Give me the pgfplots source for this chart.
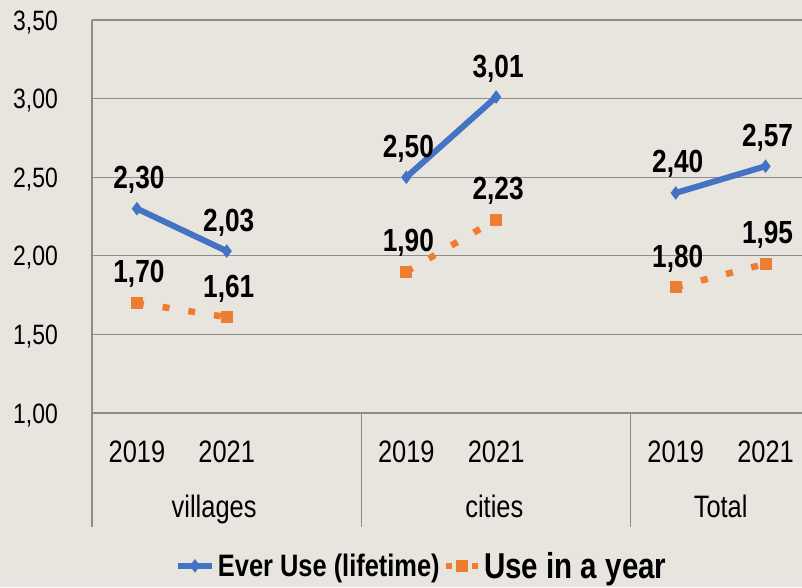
\documentclass[border=0pt]{standalone}
\usepackage{pgfplots}
\pgfplotsset{compat=1.18}
\usepackage{fontspec}
\setmainfont{Liberation Sans}[FakeStretch=0.82]
\definecolor{bg}{RGB}{232,228,222}
\definecolor{bl}{RGB}{68,114,196}
\definecolor{org}{RGB}{237,125,49}
\definecolor{gridc}{RGB}{140,140,140}
\pgfplotsset{
  bluelegend/.style={legend image code/.code={\draw[mark repeat=2,mark phase=2,##1] plot coordinates {(0pt,0pt)(17pt,0pt)(34pt,0pt)};}},
  orglegend/.style={legend image code/.code={\draw[mark repeat=2,mark phase=2,##1,dash pattern=on 6pt off 20pt] plot coordinates {(0pt,0pt)(16pt,0pt)(32pt,0pt)};}},
}
\begin{document}
\begin{tikzpicture}
\fill[bg] (0pt,0pt) rectangle (802pt,587pt);
\useasboundingbox (0pt,0pt) rectangle (802pt,587pt);
\begin{axis}[
  at={(92pt,174pt)}, anchor=south west,
  scale only axis, width=710pt, height=393pt,
  xmin=0, xmax=7.906, ymin=1, ymax=3.5,
  ytick={1,1.5,2,2.5,3,3.5},
  yticklabels={{1,00},{1,50},{2,00},{2,50},{3,00},{3,50}},
  xtick={0.5,1.5,3.5,4.5,6.5,7.5},
  xticklabels={2019,2021,2019,2021,2019,2021},
  major tick length=0pt,
  axis line style={draw=none},
  ymajorgrids, grid style={gridc, line width=1.2pt},
  yticklabel style={font=\fontsize{28}{30}\selectfont, anchor=base east, inner sep=0pt, xshift=-34pt, yshift=-10pt},
  xticklabel style={font=\fontsize{31}{33}\selectfont, anchor=base, inner sep=0pt, yshift=-49pt},
  unbounded coords=jump, clip=false,
  nodes near coords={\pgfmathprintnumber[fixed, fixed zerofill, precision=2, use comma, assume math mode=true]{\pgfplotspointmeta}},
  point meta=y,
  every node near coord/.append style={font=\fontsize{32}{34}\selectfont\bfseries, anchor=base, inner sep=0pt, yshift=20pt, xshift=2pt, text=black},
  legend style={at={(0.465,-0.389)}, anchor=center, draw=none, fill=none, legend columns=2,
    /tikz/every even column/.append style={column sep=0pt}, nodes={inner sep=3pt}},
]
\addplot[bl, line width=6pt, mark=diamond*, mark size=6pt, mark options={solid, line width=1pt}, bluelegend]
  coordinates {(0.5,2.30)(1.5,2.03)(2.5,nan)(3.5,2.50)(4.5,3.01)(5.5,nan)(6.5,2.40)(7.5,2.57)};
\addlegendentry{\fontsize{31}{33}\selectfont\bfseries Ever Use (lifetime)}
\addplot[org, line width=6.5pt, dash pattern=on 7pt off 19pt, mark=square*, mark size=5.5pt, mark options={solid, line width=1pt}, orglegend]
  coordinates {(0.5,1.70)(1.5,1.61)(2.5,nan)(3.5,1.90)(4.5,2.23)(5.5,nan)(6.5,1.80)(7.5,1.95)};
\addlegendentry{\fontsize{36}{38}\selectfont\bfseries Use in a year}
\draw[gridc, line width=1.2pt] (axis cs:0,3.5) -- ([yshift=-114pt]axis cs:0,1);
\draw[gridc, line width=1.2pt] (axis cs:3,1) -- ([yshift=-114pt]axis cs:3,1);
\draw[gridc, line width=1.2pt] (axis cs:6,1) -- ([yshift=-114pt]axis cs:6,1);
\node[font=\fontsize{31}{33}\selectfont, anchor=base, inner sep=0pt] at ([yshift=-104pt]axis cs:1.36,1) {villages};
\node[font=\fontsize{31}{33}\selectfont, anchor=base, inner sep=0pt] at ([yshift=-104pt]axis cs:4.48,1) {cities};
\node[font=\fontsize{31}{33}\selectfont, anchor=base, inner sep=0pt] at ([yshift=-104pt]axis cs:7.0,1) {Total};
\end{axis}
\end{tikzpicture}
\end{document}
